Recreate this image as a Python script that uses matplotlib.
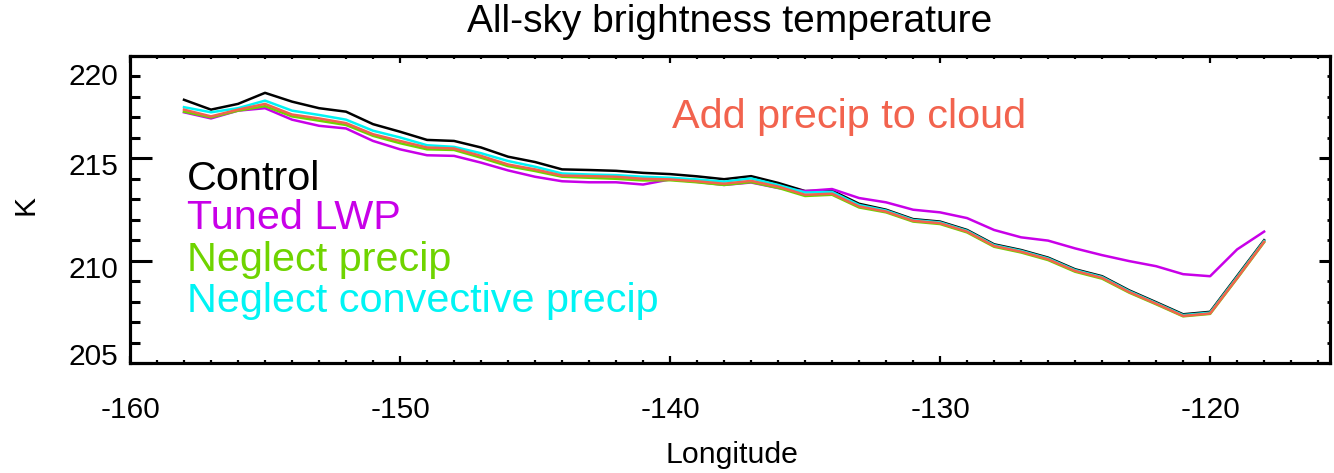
import matplotlib
matplotlib.use("Agg")
import matplotlib.pyplot as plt
from matplotlib.ticker import MultipleLocator
from matplotlib.transforms import ScaledTranslation

plt.rcParams['font.family'] = ['Liberation Sans', 'DejaVu Sans']
plt.rcParams['axes.unicode_minus'] = False

longitude = list(range(-158, -117))

control = [217.86, 217.38, 217.66, 218.20, 217.77, 217.45, 217.28, 216.67, 216.30, 215.90,
           215.85, 215.53, 215.08, 214.82, 214.46, 214.43, 214.39, 214.29, 214.23, 214.12,
           213.98, 214.13, 213.80, 213.40, 213.42, 212.78, 212.49, 212.03, 211.91, 211.50,
           210.80, 210.52, 210.15, 209.58, 209.24, 208.55, 207.97, 207.38, 207.50, 209.25,
           211.00]
tuned_lwp = [217.25, 216.95, 217.33, 217.45, 216.89, 216.59, 216.46, 215.85, 215.44, 215.15,
             215.12, 214.79, 214.41, 214.10, 213.88, 213.83, 213.83, 213.72, 213.97, 213.85,
             213.70, 213.82, 213.55, 213.40, 213.50, 213.06, 212.85, 212.49, 212.36, 212.08,
             211.50, 211.14, 210.98, 210.60, 210.27, 209.98, 209.73, 209.34, 209.24, 210.55,
             211.42]
neglect_precip = [217.28, 217.00, 217.33, 217.55, 217.05, 216.84, 216.63, 216.10, 215.74, 215.44,
                  215.41, 215.03, 214.62, 214.38, 214.10, 214.05, 214.00, 213.92, 213.93, 213.83,
                  213.70, 213.84, 213.56, 213.16, 213.22, 212.60, 212.36, 211.91, 211.79, 211.38,
                  210.68, 210.40, 210.03, 209.46, 209.12, 208.44, 207.87, 207.28, 207.40, 209.13,
                  210.90]
neglect_conv = [217.50, 217.25, 217.45, 217.82, 217.33, 217.12, 216.89, 216.35, 216.02, 215.64,
                215.56, 215.25, 214.87, 214.59, 214.26, 214.21, 214.18, 214.10, 214.05, 213.97,
                213.86, 214.02, 213.70, 213.33, 213.36, 212.72, 212.45, 211.99, 211.87, 211.46,
                210.76, 210.48, 210.11, 209.54, 209.20, 208.51, 207.93, 207.34, 207.46, 209.20,
                210.96]
add_precip = [217.38, 217.05, 217.38, 217.66, 217.14, 216.95, 216.72, 216.18, 215.85, 215.53,
              215.48, 215.12, 214.70, 214.46, 214.16, 214.13, 214.10, 214.00, 213.97, 213.88,
              213.76, 213.90, 213.62, 213.22, 213.27, 212.65, 212.40, 211.95, 211.83, 211.42,
              210.72, 210.44, 210.07, 209.50, 209.16, 208.47, 207.90, 207.30, 207.42, 209.15,
              210.92]

C_BLACK = '#000000'
C_MAG = '#C800E8'
C_GREEN = '#6FD400'
C_CYAN = '#00F4F4'
C_ORANGE = '#F2634E'

W, H = 1334, 473
fig = plt.figure(figsize=(W / 100, H / 100), dpi=100)
ax = fig.add_axes([130 / W, 1 - 363 / H, 1200 / W, 307 / H])

lw = 1.8
ax.plot(longitude, control, color=C_BLACK, lw=lw, zorder=2)
ax.plot(longitude, tuned_lwp, color=C_MAG, lw=lw, zorder=3)
ax.plot(longitude, neglect_conv, color=C_CYAN, lw=lw, zorder=4)
ax.plot(longitude, neglect_precip, color=C_GREEN, lw=lw, zorder=5)
ax.plot(longitude, add_precip, color=C_ORANGE, lw=lw, zorder=6)

ax.set_xlim(-160, -115.56)
ax.set_ylim(205, 220)

for s in ax.spines.values():
    s.set_linewidth(2.2)

ax.xaxis.set_major_locator(MultipleLocator(10))
ax.xaxis.set_minor_locator(MultipleLocator(1))
ax.yaxis.set_major_locator(MultipleLocator(5))
ax.yaxis.set_minor_locator(MultipleLocator(1))
ax.tick_params(axis='y', which='major', direction='in', length=16, width=2.2, labelsize=21.5, pad=8.5)
ax.tick_params(axis='y', which='minor', direction='in', length=7.5, width=2.2)
ax.tick_params(axis='x', which='major', direction='in', length=5, width=1.6, labelsize=21.5, pad=24)
ax.tick_params(axis='x', which='minor', direction='in', length=2.2, width=1.6)
ax.tick_params(top=False, right=False, which='both')

# right ticks
ax2 = ax.twinx()
ax2.set_ylim(ax.get_ylim())
ax2.yaxis.set_major_locator(MultipleLocator(5))
ax2.yaxis.set_minor_locator(MultipleLocator(1))
ax2.tick_params(axis='y', which='major', direction='in', length=8, width=2.2, labelright=False)
ax2.tick_params(axis='y', which='minor', direction='in', length=2.2, width=2.0)
for s in ax2.spines.values():
    s.set_linewidth(2.2)
# top ticks
ax3 = ax.twiny()
ax3.set_xlim(ax.get_xlim())
ax3.xaxis.set_major_locator(MultipleLocator(10))
ax3.xaxis.set_minor_locator(MultipleLocator(1))
ax3.tick_params(axis='x', which='major', direction='in', length=5, width=1.6, labeltop=False)
ax3.tick_params(axis='x', which='minor', direction='in', length=2.2, width=1.6)
for s in ax3.spines.values():
    s.set_linewidth(2.2)

fig.canvas.draw()
offsets = {220: -18, 215: -6, 210: -6, 205: 9}
for val, lab in zip(ax.get_yticks(), ax.get_yticklabels()):
    dy = offsets.get(int(round(val)), 0)
    lab.set_transform(lab.get_transform() + ScaledTranslation(0, dy / 100, fig.dpi_scale_trans))

# texts
fig.text(730 / W, 1 - 22 / H, 'All-sky brightness temperature', ha='center', va='center', fontsize=28)
fig.text(732 / W, 1 - 455 / H, 'Longitude', ha='center', va='center', fontsize=21.8)
fig.text(25 / W, 1 - 205 / H, 'K', ha='center', va='center', rotation=90, fontsize=21.5)

fs = 29.8
labels = [('Control', C_BLACK, 190), ('Tuned LWP', C_MAG, 229),
          ('Neglect precip', C_GREEN, 271), ('Neglect convective precip', C_CYAN, 312)]
for txt, col, yb in labels:
    fig.text(187 / W, 1 - yb / H, txt, color=col, fontsize=fs, ha='left', va='baseline')
fig.text(672 / W, 1 - 128 / H, 'Add precip to cloud', color=C_ORANGE, fontsize=fs, ha='left', va='baseline')

fig.savefig('out.png', dpi=100)
